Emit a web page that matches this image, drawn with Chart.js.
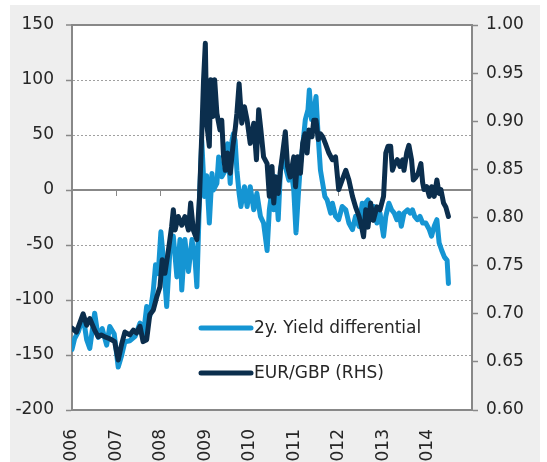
<!DOCTYPE html>
<html>
<head>
<meta charset="utf-8">
<script src="https://cdn.jsdelivr.net/npm/chart.js@4.4.1/dist/chart.umd.min.js"></script>
<style>
  html, body { margin: 0; padding: 0; background: #fff; }
  canvas { display: block; }
</style>
</head>
<body>
<canvas id="chart" width="547" height="462"></canvas>
<script>
// 2y. yield differential (bp, left axis)
const yieldYears = [
    2006.00, 2006.06, 2006.14, 2006.25, 2006.33, 2006.40, 2006.51, 2006.59, 2006.68, 2006.78, 2006.85, 2006.95,
    2007.04, 2007.12, 2007.19, 2007.30, 2007.42, 2007.53, 2007.60, 2007.68, 2007.75, 2007.83, 2007.88, 2007.94,
    2008.00, 2008.05, 2008.13, 2008.21, 2008.28, 2008.36, 2008.43, 2008.47, 2008.54, 2008.62, 2008.70, 2008.77, 2008.81, 2008.87, 2008.92, 2008.98,
    2009.03, 2009.09, 2009.15, 2009.18, 2009.26, 2009.30, 2009.37, 2009.45, 2009.50, 2009.56, 2009.60, 2009.63, 2009.67, 2009.71, 2009.76, 2009.80, 2009.88, 2009.94,
    2010.01, 2010.09, 2010.16, 2010.24, 2010.31, 2010.39, 2010.44, 2010.50, 2010.54, 2010.58, 2010.64, 2010.69, 2010.76, 2010.82, 2010.88, 2010.94, 2010.99,
    2011.04, 2011.09, 2011.14, 2011.19, 2011.25, 2011.31, 2011.34, 2011.39, 2011.44, 2011.49, 2011.54, 2011.59, 2011.64, 2011.69, 2011.74, 2011.82, 2011.86, 2011.93,
    2012.00, 2012.08, 2012.16, 2012.23, 2012.31, 2012.38, 2012.46, 2012.53, 2012.56, 2012.60, 2012.66, 2012.72, 2012.79, 2012.86, 2012.93,
    2013.01, 2013.06, 2013.13, 2013.19, 2013.25, 2013.31, 2013.36, 2013.41, 2013.47, 2013.55, 2013.61, 2013.66, 2013.71, 2013.77, 2013.83, 2013.89, 2013.96,
    2014.04, 2014.09, 2014.15, 2014.21, 2014.26, 2014.32, 2014.38, 2014.44, 2014.47
];
const yieldValues = [
    -145, -135, -129, -115, -136, -144, -112, -134, -126, -141, -124, -131,
    -161, -150, -138, -137, -133, -121, -134, -106, -115, -91, -68, -76,
    -38, -60, -106, -50, -42, -79, -45, -91, -45, -74, -45, -64, -88, -6, 45, -6,
    13, -30, 15, 0, 6, 30, 12, 18, 42, 6, 45, 51, 45, 18, -3, -15, 3, -15,
    3, -18, -3, -24, -30, -55, -18, 0, -18, 12, -27, 18, 33, 18, 9, 15, 0,
    -39, -6, 24, 39, 64, 73, 91, 64, 70, 85, 48, 18, 6, -6, -9, -21, -12, -24,
    -27, -15, -18, -30, -36, -24, -33, -12, -27, -12, -9, -24, -15, -30, -21,
    -42, -24, -12, -18, -21, -27, -21, -33, -21, -18, -21, -18, -24, -27, -24, -30, -30,
    -36, -42, -33, -27, -48, -55, -61, -64, -85
];

// EUR/GBP (right axis)
const fxYears = [
    2006.00, 2006.10, 2006.25, 2006.33, 2006.40, 2006.51, 2006.59, 2006.66, 2006.74, 2006.85, 2006.96,
    2007.04, 2007.12, 2007.19, 2007.30, 2007.38, 2007.45, 2007.53, 2007.60, 2007.68, 2007.75, 2007.83, 2007.91, 2007.98,
    2008.03, 2008.09, 2008.17, 2008.24, 2008.28, 2008.32, 2008.39, 2008.47, 2008.54, 2008.62, 2008.67, 2008.73, 2008.81, 2008.87, 2008.92, 2008.96,
    2009.00, 2009.03, 2009.09, 2009.12, 2009.17, 2009.21, 2009.26, 2009.33, 2009.37, 2009.41, 2009.45, 2009.50, 2009.56, 2009.62, 2009.67, 2009.71, 2009.76, 2009.82, 2009.88, 2009.94,
    2010.01, 2010.09, 2010.15, 2010.20, 2010.25, 2010.31, 2010.39, 2010.44, 2010.50, 2010.54, 2010.58, 2010.64, 2010.69, 2010.74, 2010.80, 2010.85, 2010.91, 2010.99,
    2011.03, 2011.08, 2011.14, 2011.19, 2011.24, 2011.29, 2011.33, 2011.40, 2011.44, 2011.49, 2011.54, 2011.59, 2011.64, 2011.70, 2011.78, 2011.86, 2011.93,
    2012.00, 2012.08, 2012.16, 2012.23, 2012.31, 2012.38, 2012.46, 2012.53, 2012.56, 2012.61, 2012.66, 2012.72, 2012.78, 2012.86, 2012.93,
    2013.01, 2013.06, 2013.11, 2013.17, 2013.21, 2013.26, 2013.32, 2013.38, 2013.44, 2013.47, 2013.53, 2013.58, 2013.64, 2013.68, 2013.74, 2013.79, 2013.85, 2013.89, 2013.92, 2013.98,
    2014.04, 2014.09, 2014.15, 2014.21, 2014.26, 2014.30, 2014.36, 2014.41, 2014.47
];
const fxValues = [
    0.685, 0.681, 0.700, 0.688, 0.695, 0.683, 0.676, 0.678, 0.676, 0.674, 0.671,
    0.652, 0.669, 0.681, 0.678, 0.683, 0.680, 0.687, 0.671, 0.673, 0.699, 0.704, 0.718, 0.728,
    0.756, 0.742, 0.766, 0.790, 0.808, 0.787, 0.801, 0.792, 0.801, 0.787, 0.815, 0.787, 0.777, 0.822, 0.887, 0.943,
    0.981, 0.898, 0.874, 0.943, 0.905, 0.943, 0.908, 0.891, 0.901, 0.863, 0.849, 0.867, 0.846, 0.874, 0.891, 0.908, 0.939, 0.898, 0.915, 0.901,
    0.877, 0.898, 0.860, 0.912, 0.891, 0.863, 0.856, 0.822, 0.853, 0.815, 0.842, 0.825, 0.849, 0.867, 0.889, 0.853, 0.842, 0.863,
    0.832, 0.863, 0.846, 0.877, 0.887, 0.867, 0.891, 0.884, 0.901, 0.901, 0.881, 0.887, 0.884, 0.877, 0.867, 0.860, 0.863,
    0.829, 0.839, 0.849, 0.839, 0.822, 0.811, 0.801, 0.787, 0.780, 0.808, 0.790, 0.815, 0.797, 0.811, 0.808,
    0.822, 0.867, 0.874, 0.874, 0.849, 0.856, 0.860, 0.853, 0.860, 0.849, 0.867, 0.875, 0.860, 0.839, 0.842, 0.846, 0.856, 0.836, 0.829, 0.832,
    0.822, 0.832, 0.822, 0.839, 0.825, 0.829, 0.815, 0.811, 0.801
];

const leftTicks = [-200, -150, -100, -50, 0, 50, 100, 150];
const rightTicks = [0.60, 0.65, 0.70, 0.75, 0.80, 0.85, 0.90, 0.95, 1.00];
const yearTicks = [2006, 2007, 2008, 2009, 2010, 2011, 2012, 2013, 2014];

const LIGHT = '#1595d3';
const DARK = '#0b2e4d';
const AXIS = '#888888';
const TEXT = '#262626';
const FONT = { family: '"DejaVu Sans", Arial, sans-serif', size: 17 };
const LINE_W = 5;

function toPoints(xs, ys) {
    return xs.map((x, i) => ({ x: x, y: ys[i] }));
}

// grey card behind the chart, white plot area
const backgroundPlugin = {
    id: 'background',
    beforeDraw(chart) {
        const { ctx, chartArea: a } = chart;
        ctx.save();
        ctx.fillStyle = '#ffffff';
        ctx.fillRect(0, 0, chart.width, chart.height);
        ctx.fillStyle = '#eeeeee';
        ctx.fillRect(10, 5, 530, chart.height - 5);
        ctx.fillStyle = '#ffffff';
        ctx.fillRect(a.left, a.top, a.right - a.left, a.bottom - a.top);
        ctx.restore();
    }
};

// legend sits inside the plot, lower middle
const legendPlugin = {
    id: 'innerLegend',
    afterDatasetsDraw(chart) {
        const { ctx, chartArea: a } = chart;
        const rows = [303, 348];
        ctx.save();
        chart.data.datasets.forEach((ds, i) => {
            const y = a.top + rows[i];
            ctx.strokeStyle = ds.borderColor;
            ctx.lineWidth = LINE_W;
            ctx.lineCap = 'round';
            ctx.beginPath();
            ctx.moveTo(a.left + 129, y);
            ctx.lineTo(a.left + 179, y);
            ctx.stroke();
            ctx.fillStyle = TEXT;
            ctx.font = FONT.size + 'px ' + FONT.family;
            ctx.textBaseline = 'middle';
            ctx.textAlign = 'left';
            ctx.fillText(ds.label, a.left + 182, y + 1);
        });
        ctx.restore();
    }
};

new Chart(document.getElementById('chart'), {
    type: 'line',
    data: {
        datasets: [
            {
                label: '2y. Yield differential',
                data: toPoints(yieldYears, yieldValues),
                borderColor: LIGHT,
                yAxisID: 'y',
                order: 1
            },
            {
                label: 'EUR/GBP (RHS)',
                data: toPoints(fxYears, fxValues),
                borderColor: DARK,
                yAxisID: 'y2',
                order: 0
            }
        ]
    },
    options: {
        responsive: false,
        animation: false,
        devicePixelRatio: 1,
        layout: { padding: { top: 25, left: 0, right: 0, bottom: 0 } },
        elements: {
            point: { radius: 0 },
            line: { borderWidth: LINE_W, tension: 0, fill: false, borderJoinStyle: 'round', borderCapStyle: 'round' }
        },
        plugins: {
            legend: { display: false },
            tooltip: { enabled: false }
        },
        scales: {
            x: {
                type: 'linear',
                position: 'bottom',
                min: 2006,
                max: 2015,
                afterFit: s => { s.height = 52; },
                afterBuildTicks: s => { s.ticks = yearTicks.map(v => ({ value: v })); },
                grid: { display: false },
                border: { display: true, color: AXIS, width: 2 },
                ticks: {
                    autoSkip: false,
                    minRotation: 90,
                    maxRotation: 90,
                    padding: 11,
                    color: TEXT,
                    font: FONT,
                    callback: v => String(v)
                }
            },
            // category axis crossing at zero, with its small tick marks
            xZero: {
                type: 'linear',
                axis: 'x',
                position: { y: 0 },
                min: 2006,
                max: 2015,
                afterBuildTicks: s => { s.ticks = yearTicks.map(v => ({ value: v })); },
                grid: { display: true, drawOnChartArea: false, drawTicks: true, tickLength: 5, color: AXIS, lineWidth: 1 },
                border: { display: true, color: AXIS, width: 2 },
                ticks: { display: false }
            },
            y: {
                position: 'left',
                min: -200,
                max: 150,
                afterFit: s => { s.width = 72; },
                afterBuildTicks: s => { s.ticks = leftTicks.map(v => ({ value: v })); },
                grid: {
                    color: c => c.tick && c.tick.value === 0 ? 'rgba(0,0,0,0)' : (c.tick && c.tick.value === 150 ? AXIS : '#a0a0a0'),
                    lineWidth: c => c.tick && c.tick.value === 150 ? 2 : 1,
                    tickColor: AXIS,
                    tickLength: 6,
                    tickWidth: 1.5
                },
                border: {
                    display: true,
                    color: AXIS,
                    width: 2,
                    dash: c => c.tick && c.tick.value !== 150 ? [2, 2] : []
                },
                ticks: { padding: 12, color: TEXT, font: FONT }
            },
            y2: {
                position: 'right',
                min: 0.6,
                max: 1.0,
                afterFit: s => { s.width = 75; },
                afterBuildTicks: s => { s.ticks = rightTicks.map(v => ({ value: v })); },
                grid: { drawOnChartArea: false, tickColor: AXIS, tickLength: 6, tickWidth: 1.5 },
                border: { display: true, color: AXIS, width: 2 },
                ticks: { padding: 8, color: TEXT, font: FONT, callback: v => Number(v).toFixed(2) }
            }
        }
    },
    plugins: [backgroundPlugin, legendPlugin]
});
</script>
</body>
</html>
